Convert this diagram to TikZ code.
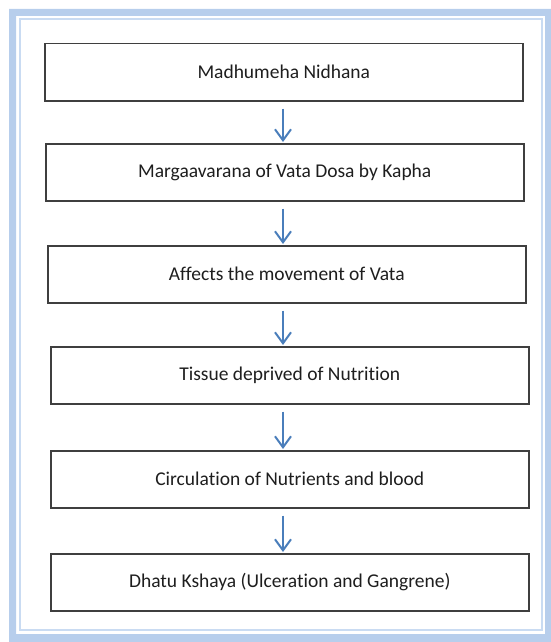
\documentclass[tikz,border=0pt]{standalone}
\usepackage{fontspec}
\setmainfont{Carlito}[Ligatures=NoCommon]
\usetikzlibrary{arrows.meta}

\begin{document}
\begin{tikzpicture}[x=1pt, y=-1pt,
    stage/.style={draw=borderColour, line width=1.5pt, fill=white, rectangle,
        minimum width=478pt, minimum height=57pt, anchor=north west, inner sep=0pt,
        text=textColour, font=\fontsize{19.5}{23}\selectfont},
    flow/.style={draw=arrowColour, line width=2pt, -{Straight Barb[length=11pt, width=16pt, line width=2pt]},
        shorten <=7pt, shorten >=1pt}]
    % Define where the arrows run
    \def\arrowX{283}

    \definecolor{borderColour}{HTML}{3F3F3F}
    \definecolor{textColour}{HTML}{1E1E1E}
    \definecolor{arrowColour}{HTML}{4A7EBB}
    \definecolor{frameColour}{HTML}{B7CEEC}
    \definecolor{lineColour}{HTML}{C9DBF2}

    \useasboundingbox (0,0) rectangle (550,642);

    % Draw page frame
    \fill[frameColour, even odd rule] (9,9) rectangle (553,642) (16,16) rectangle (545,634);
    \draw[lineColour, line width=2pt] (19.5,19.5) rectangle (541.5,629.5);

    % Draw the stages
    \node[stage] (nidhana) at (44,43) {Madhumeha Nidhana};
    \node[stage] (avarana) at (45,143) {Margaavarana of Vata Dosa by Kapha};
    \node[stage] (vata) at (47,245) {Affects the movement of Vata};
    \node[stage] (tissue) at (50,346) {Tissue deprived of Nutrition};
    \node[stage] (circulation) at (50,450) {Circulation of Nutrients and blood};
    \node[stage] (kshaya) at (50,553) {Dhatu Kshaya (Ulceration and Gangrene)};

    % Draw arrows between stages
    \coordinate (axis) at (\arrowX,0);
    \foreach \from/\to in {nidhana/avarana, avarana/vata, vata/tissue, tissue/circulation, circulation/kshaya}
        \draw[flow] (\from.south -| axis) -- (\to.north -| axis);

\end{tikzpicture}
\end{document}
